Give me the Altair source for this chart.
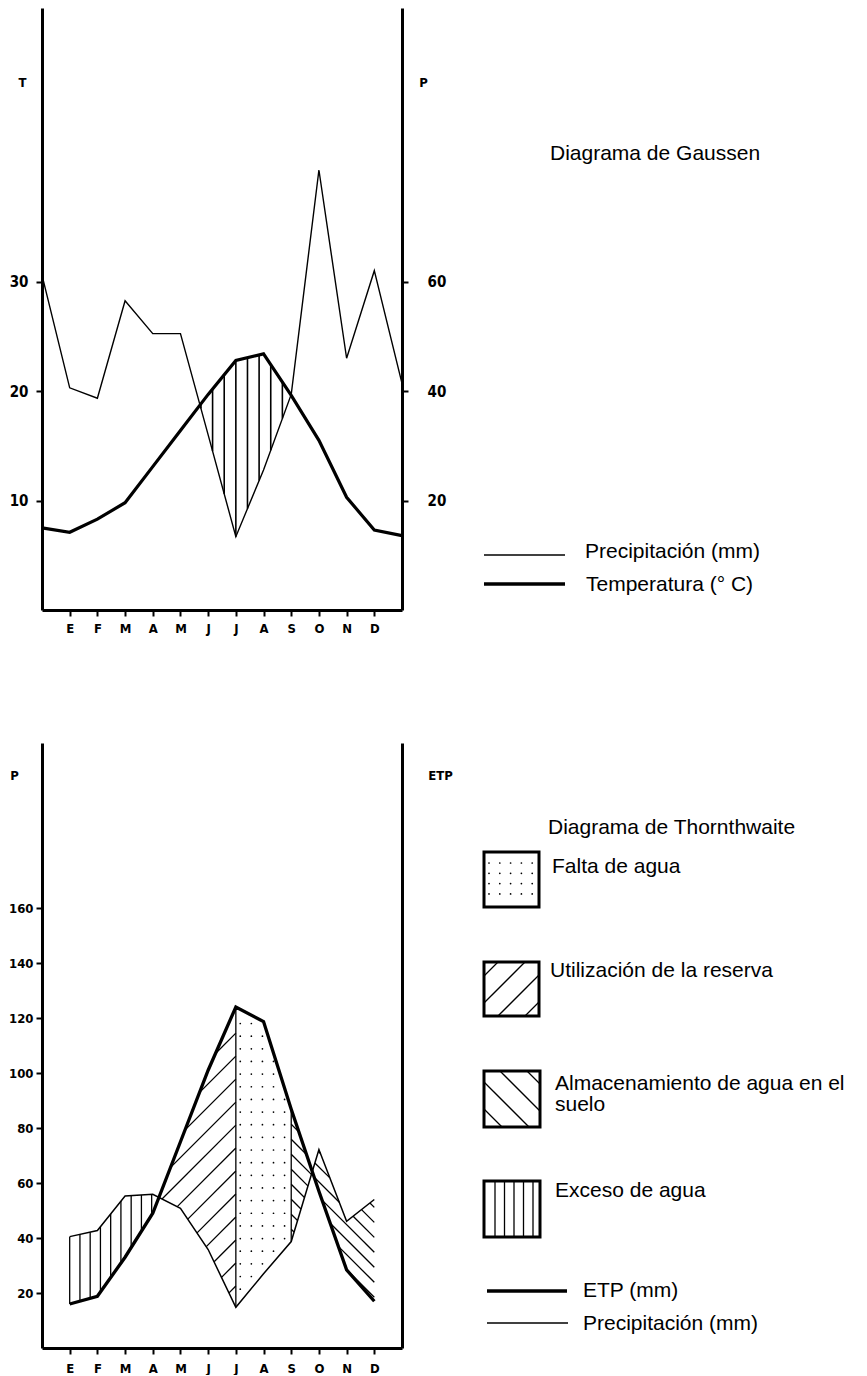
import json
import numpy as np
import pandas as pd
import altair as alt

# ---------------- data ----------------
MONTHS = ["E", "F", "M", "A", "M", "J", "J", "A", "S", "O", "N", "D"]

# Gaussen diagram: positions 0..13 (0 and 13 lie on the two vertical axes)
G_POS = list(range(14))
G_TEMP = [7.5, 7.1, 8.3, 9.8, 13.1, 16.4, 19.7, 22.8, 23.4, 19.6, 15.5, 10.3, 7.3, 6.8]
G_PREC = [61.2, 40.6, 38.7, 56.5, 50.5, 50.5, 32.0, 13.4, 25.6, 39.4, 80.4, 46.0, 62.0, 41.4]
T_TICKS = [10, 20, 30]
P_TICKS_TOP = [20, 40, 60]

# Thornthwaite diagram: months 1..12
W_POS = list(range(1, 13))
W_ETP = [16.0, 18.8, 33.0, 49.0, 75.0, 101.0, 124.0, 118.7, 86.8, 57.0, 28.4, 17.0]
W_PREC = [40.5, 42.7, 55.3, 55.9, 50.8, 35.8, 14.8, 27.0, 38.7, 72.2, 46.1, 54.0]
P_TICKS_BOT = [20, 40, 60, 80, 100, 120, 140, 160]

G_TITLE = "Diagrama de Gaussen"
G_LABELS = ["Precipitación (mm)", "Temperatura (° C)"]
W_TITLE = "Diagrama de Thornthwaite"
W_LABELS = ["Falta de agua", "Utilización de la reserva",
            "Almacenamiento de agua en el\nsuelo", "Exceso de agua",
            "ETP (mm)", "Precipitación (mm)"]

# ---------------- layout ----------------
W = 360
H_TOP = 602
H_BOT = 605
X_DOMAIN = [0, 13]
T_DOMAIN = [0, 55]
PT_DOMAIN = [0, 110]
PB_DOMAIN = [0, 220]

TICK_FONT = "DejaVu Sans Condensed, Liberation Sans, sans-serif"
TEXT_FONT = "Liberation Sans, Arial, sans-serif"
TEXT_SIZE = 21

MONTH_EXPR = json.dumps(MONTHS) + "[datum.value - 1]"
ONE = pd.DataFrame({"k": [0]})


def x_axis(pad):
    return alt.Axis(values=list(range(1, 13)), labelExpr=MONTH_EXPR, title=None,
                    tickSize=6, tickWidth=2, tickColor="black", domainWidth=3,
                    domainColor="black", labelPadding=pad, labelFont=TICK_FONT,
                    labelFontSize=13, labelFontWeight="bold", labelColor="black",
                    labelFlush=False, labelAngle=0, grid=False)


def y_axis(values, orient, title, tx, ty, pad, size=15, labels=True, ticks=True):
    return alt.Axis(values=values, orient=orient, title=title, titleAngle=0,
                    titleX=tx, titleY=ty, titleAlign="center", titleBaseline="middle",
                    titleFont=TICK_FONT, titleFontSize=13, titleFontWeight="bold",
                    titleColor="black", labels=labels, ticks=ticks, tickSize=6,
                    tickWidth=2, tickColor="black", domainWidth=3, domainColor="black",
                    labelPadding=pad, labelFont=TICK_FONT, labelFontSize=size,
                    labelFontWeight="bold", labelColor="black", labelFlush=False,
                    grid=False)


def vert_segments(xs, ya, yb, x_list, cond=None):
    rows = []
    for x in x_list:
        a = float(np.interp(x, xs, ya))
        b = float(np.interp(x, xs, yb))
        if cond is not None and not cond(a, b):
            continue
        rows.append({"m": x, "v": min(a, b), "m2": x, "v2": max(a, b)})
    return pd.DataFrame(rows)


def diag_segments(xs, ya, yb, x_lo, x_hi, slope, x_ref, c_list, cond=None, n=900):
    gx = np.linspace(x_lo, x_hi, n)
    a = np.interp(gx, xs, ya)
    b = np.interp(gx, xs, yb)
    lo = np.minimum(a, b)
    hi = np.maximum(a, b)
    ok = np.ones(n, bool) if cond is None else cond(a, b)
    rows = []
    for c in c_list:
        y = c + slope * (gx - x_ref)
        inside = ok & (y >= lo) & (y <= hi)
        idx = np.flatnonzero(inside)
        if idx.size == 0:
            continue
        br = np.flatnonzero(np.diff(idx) > 1)
        starts = np.r_[idx[0], idx[br + 1]]
        ends = np.r_[idx[br], idx[-1]]
        for s, e in zip(starts, ends):
            if e - s < 3:
                continue
            rows.append({"m": gx[s], "v": y[s], "m2": gx[e], "v2": y[e]})
    return pd.DataFrame(rows)


def vtext(label, x, y):
    return alt.Chart(pd.DataFrame({"t": [label]})).mark_text(
        align="left", baseline="alphabetic", font=TEXT_FONT, fontSize=TEXT_SIZE,
        color="black", lineBreak="\n", lineHeight=21
    ).encode(x=alt.value(x), y=alt.value(y), text="t:N")


def vrule(x1, y1, x2, y2, w, op=1):
    return alt.Chart(ONE).mark_rule(color="black", strokeWidth=w, opacity=op).encode(
        x=alt.value(x1), y=alt.value(y1), x2=alt.value(x2), y2=alt.value(y2))


def vbox(x1, y1, x2, y2):
    return alt.Chart(ONE).mark_rect(fillOpacity=0, stroke="black", strokeWidth=3).encode(
        x=alt.value(x1), y=alt.value(y1), x2=alt.value(x2), y2=alt.value(y2))


def vdot(x, y):
    return alt.Chart(ONE).mark_point(filled=True, shape="circle", size=3, color="black",
                                     opacity=1).encode(x=alt.value(x), y=alt.value(y))


def swatch_diag(x0, y0, x1, y1, kind, c_list, w=1.3):
    out = []
    for c in c_list:
        if kind == "/":      # x + y = c
            xa, xb = max(x0, c - y1), min(x1, c - y0)
            if xb - xa > 1:
                out.append(vrule(xa, c - xa, xb, c - xb, w))
        else:                # y = x + c
            xa, xb = max(x0, y0 - c), min(x1, y1 - c)
            if xb - xa > 1:
                out.append(vrule(xa, xa + c, xb, xb + c, w))
    return out


xsc = alt.Scale(domain=X_DOMAIN, nice=False, zero=False)

# ======================= Gaussen =======================
g_xs = np.array(G_POS, float)
g_p_half = np.array(G_PREC) / 2.0
g_hatch = vert_segments(g_xs, g_p_half, G_TEMP, [7 + 0.42 * k for k in range(-4, 8)],
                        cond=lambda a, b: b > a + 0.2)
g_prec_df = pd.DataFrame({"m": G_POS, "v": G_PREC})
g_temp_df = pd.DataFrame({"m": G_POS, "v": G_TEMP})

tsc = alt.Scale(domain=T_DOMAIN, nice=False, zero=False)
ptsc = alt.Scale(domain=PT_DOMAIN, nice=False, zero=False)
gx_enc = alt.X("m:Q", scale=xsc, axis=x_axis(6))

g_layers = [
    vrule(-34, 0, -34, 1, 1, op=0),   # fixes the left edge of the drawing
    alt.Chart(g_hatch).mark_rule(color="black", strokeWidth=1.6).encode(
        x=gx_enc, x2="m2:Q", y=alt.Y("v:Q", scale=tsc, axis=None), y2="v2:Q"),
    alt.Chart(g_prec_df).mark_line(color="black", strokeWidth=1.4).encode(
        x=gx_enc,
        y=alt.Y("v:Q", scale=ptsc,
                axis=y_axis(P_TICKS_TOP, "right", "P", 21, 74, 19))),
    alt.Chart(g_temp_df).mark_line(color="black", strokeWidth=3.2).encode(
        x=gx_enc,
        y=alt.Y("v:Q", scale=tsc, axis=y_axis(T_TICKS, "left", "T", -20, 74, 8))),
    vtext(G_TITLE, 508, 152),
    vrule(442, 547, 523, 547, 1.6),
    vtext(G_LABELS[0], 543, 550),
    vrule(442, 576, 523, 576, 3.3),
    vtext(G_LABELS[1], 544, 583),
]
top = alt.layer(*g_layers).resolve_scale(y="independent").properties(width=W, height=H_TOP)

# ======================= Thornthwaite =======================
w_xs = np.array(W_POS, float)
S = (W / 13.0) / (H_BOT / 220.0)   # 45 degree slope in data units

exceso = vert_segments(w_xs, W_PREC, W_ETP, [1 + 0.37 * k for k in range(0, 12)],
                       cond=lambda a, b: a > b + 0.3)
bounds_df = vert_segments(w_xs, W_PREC, W_ETP, [7, 9])
utiliz = diag_segments(w_xs, W_PREC, W_ETP, 4.0, 7.0, S, 7.0,
                       [114.5 - 8.36 * k for k in range(-3, 18)],
                       cond=lambda a, b: b > a)
almac = diag_segments(w_xs, W_PREC, W_ETP, 9.0, 12.0, -S, 9.0,
                      [86.8 - 5.45 * k for k in range(-2, 14)])
hatch_bot = pd.concat([exceso, bounds_df, utiliz, almac], ignore_index=True)

dot_rows = []
for kx in range(5):
    cx = 7.16 + 0.4 * kx
    a = float(np.interp(cx, w_xs, W_PREC))
    b = float(np.interp(cx, w_xs, W_ETP))
    for ry in np.arange(118.0, 5.0, -4.6):
        if min(a, b) + 1.5 < ry < max(a, b) - 1.5:
            dot_rows.append({"m": cx, "v": ry})
dots = pd.DataFrame(dot_rows)

w_prec_df = pd.DataFrame({"m": W_POS, "v": W_PREC})
w_etp_df = pd.DataFrame({"m": W_POS, "v": W_ETP})

pbsc = alt.Scale(domain=PB_DOMAIN, nice=False, zero=False)
wx_enc = alt.X("m:Q", scale=xsc, axis=x_axis(8))

w_layers = [
    alt.Chart(hatch_bot).mark_rule(color="black", strokeWidth=1.3).encode(
        x=wx_enc, x2="m2:Q", y=alt.Y("v:Q", scale=pbsc, axis=None), y2="v2:Q"),
    alt.Chart(dots).mark_point(filled=True, shape="circle", size=3, color="black",
                               opacity=1).encode(
        x=wx_enc, y=alt.Y("v:Q", scale=pbsc, axis=None)),
    alt.Chart(w_prec_df).mark_line(color="black", strokeWidth=1.5).encode(
        x=wx_enc,
        y=alt.Y("v:Q", scale=pbsc,
                axis=y_axis(P_TICKS_BOT, "left", "P", -28, 32, 3, size=13))),
    alt.Chart(w_etp_df).mark_line(color="black", strokeWidth=3.3).encode(
        x=wx_enc,
        y=alt.Y("v:Q", scale=pbsc,
                axis=y_axis(P_TICKS_BOT, "right", "ETP", 38, 32, 10,
                            labels=False, ticks=False))),
    vtext(W_TITLE, 506, 91),
]

# legend swatch 1: dots
for i in range(5):
    for j in range(4):
        w_layers.append(vdot(447 + 10.8 * i, 120 + 10.3 * j))
w_layers.append(vbox(442, 109, 497, 164))
w_layers.append(vtext(W_LABELS[0], 510, 130))
# swatch 2: "/"
w_layers += swatch_diag(442, 219, 497, 273, "/", [675 + 27 * k for k in range(4)])
w_layers.append(vbox(442, 219, 497, 273))
w_layers.append(vtext(W_LABELS[1], 508, 234))
# swatch 3: "\"
w_layers += swatch_diag(442, 328, 498, 384, "\\", [-157 + 27 * k for k in range(4)])
w_layers.append(vbox(442, 328, 498, 384))
w_layers.append(vtext(W_LABELS[2], 513, 347))
# swatch 4: vertical lines
for i in range(5):
    xv = 453 + 9.5 * i
    w_layers.append(vrule(xv, 438, xv, 494, 1.3))
w_layers.append(vbox(442, 438, 498, 494))
w_layers.append(vtext(W_LABELS[3], 513, 454))
# line keys
w_layers.append(vrule(445, 548, 525, 548, 3.3))
w_layers.append(vtext(W_LABELS[4], 541, 554))
w_layers.append(vrule(445, 580, 526, 580, 1.6))
w_layers.append(vtext(W_LABELS[5], 541, 587))

bottom = alt.layer(*w_layers).resolve_scale(y="independent").properties(width=W, height=H_BOT)

chart = alt.vconcat(top, bottom, spacing=133, bounds="flush").properties(
    padding={"left": 0, "top": 0, "right": 4, "bottom": 0}
).configure_view(strokeWidth=0)

chart.save("out.html", embed_options={"renderer": "svg", "actions": False})
